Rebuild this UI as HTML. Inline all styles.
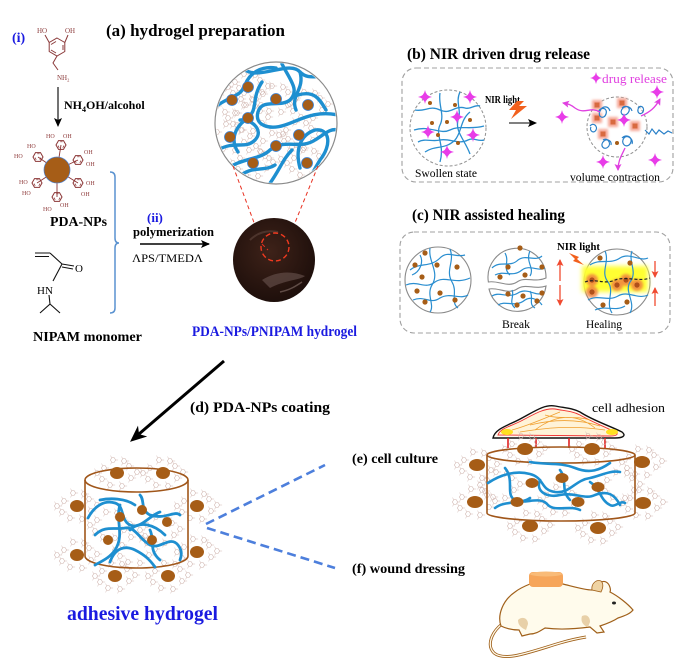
<!DOCTYPE html>
<html><head><meta charset="utf-8"><style>
html,body{margin:0;padding:0;background:#fff;}
svg{display:block;}
text{font-family:"Liberation Serif",serif;}
</style></head><body>
<svg width="699" height="667" viewBox="0 0 699 667" xmlns="http://www.w3.org/2000/svg">
<defs>
<g id="hx"><polygon points="2.6,0 1.3,2.25 -1.3,2.25 -2.6,0 -1.3,-2.25 1.3,-2.25" fill="none" stroke="#cdb0aa" stroke-width="0.55"/><path d="M2.6,0h2.5M-1.3,-2.25l-1.2,-2.2M-1.3,2.25l-1.2,2.2" stroke="#cdb0aa" stroke-width="0.45" fill="none"/></g>
<g id="cl"><use href="#hx" x="-13" y="-5"/><use href="#hx" x="-15" y="6"/><use href="#hx" x="12" y="-7"/><use href="#hx" x="14" y="5"/><use href="#hx" x="-4" y="-13"/><use href="#hx" x="5" y="13"/><use href="#hx" x="-7" y="12"/><use href="#hx" x="7" y="-12"/><use href="#hx" x="-20" y="0"/><use href="#hx" x="20" y="-1"/></g>
<g id="cat"><polygon points="5,0 2.5,4.33 -2.5,4.33 -5,0 -2.5,-4.33 2.5,-4.33" fill="none" stroke="#8b3535" stroke-width="1"/><path d="M3,0.6 L1.8,2.8 M-1.8,2.8 L-3,0.6 M-0.8,-3.2 L1.6,-3.2" stroke="#8b3535" stroke-width="0.7"/></g>
<path id="st" d="M0,-7 Q0.9,-0.9 7,0 Q0.9,0.9 0,7 Q-0.9,0.9 -7,0 Q-0.9,-0.9 0,-7Z" fill="#e83ce8"/>
<marker id="ab" markerWidth="9" markerHeight="8" refX="8" refY="4" orient="auto" markerUnits="userSpaceOnUse"><path d="M0,0 L9,4 L0,8 L2,4Z" fill="#000"/></marker>
<marker id="ar" markerWidth="7" markerHeight="7" refX="6" refY="3.5" orient="auto" markerUnits="userSpaceOnUse"><path d="M0,0 L7,3.5 L0,7 L1.5,3.5Z" fill="#f04a30"/></marker>
<marker id="am" markerWidth="7" markerHeight="7" refX="6" refY="3.5" orient="auto" markerUnits="userSpaceOnUse"><path d="M0,0 L7,3.5 L0,7 L1.5,3.5Z" fill="#e040e0"/></marker>
<clipPath id="c1"><circle cx="276" cy="123" r="60"/></clipPath>
<radialGradient id="gd" cx="45%" cy="40%" r="60%"><stop offset="0" stop-color="#3e2219"/><stop offset="1" stop-color="#1e0f0b"/></radialGradient>
<filter id="bl" x="-50%" y="-50%" width="200%" height="200%"><feGaussianBlur stdDeviation="2.5"/></filter>
<filter id="bl1" x="-50%" y="-50%" width="200%" height="200%"><feGaussianBlur stdDeviation="1.2"/></filter>
</defs>

<!-- ===== (a) hydrogel preparation ===== -->
<text x="12" y="42" font-size="14" font-weight="bold" fill="#1a1ae0">(i)</text>
<text x="106" y="36" font-size="17" font-weight="bold" textLength="179" lengthAdjust="spacingAndGlyphs">(a) hydrogel preparation</text>

<!-- dopamine -->
<g stroke="#8b3a3a" stroke-width="1" fill="none">
<polygon points="57,38 64.8,42.5 64.8,51.5 57,56 49.2,51.5 49.2,42.5"/>
<path d="M51,44.5 L56,41.5 M63,45 L63,50 M51,50 L56,53"/>
<path d="M49.2,42.5 L45,35 M64.8,42.5 L68,35 M57,56 L53,63 L58,70"/>
</g>
<text x="37" y="33" font-size="7" fill="#8b3a3a" font-family="Liberation Sans,sans-serif">HO</text>
<text x="65" y="33" font-size="7" fill="#8b3a3a" font-family="Liberation Sans,sans-serif">OH</text>
<text x="57" y="80" font-size="7" fill="#8b3a3a" font-family="Liberation Sans,sans-serif">NH<tspan font-size="4.5" dy="1.5">2</tspan></text>
<line x1="58" y1="87" x2="58" y2="126" stroke="#000" stroke-width="1.1" marker-end="url(#ab)"/>
<text x="64" y="109" font-size="12" font-weight="bold">NH<tspan font-size="8" dy="3">4</tspan><tspan dy="-3">OH/alcohol</tspan></text>

<!-- PDA NP -->
<g stroke="#8b3535" stroke-width="0.9">
<line x1="57" y1="170" x2="61" y2="145"/><line x1="57" y1="170" x2="78" y2="160"/><line x1="57" y1="170" x2="78" y2="183"/><line x1="57" y1="170" x2="57" y2="197"/><line x1="57" y1="170" x2="37" y2="183"/><line x1="57" y1="170" x2="38" y2="157"/>
</g>
<use href="#cat" x="61" y="145"/><use href="#cat" x="78" y="160"/><use href="#cat" x="78" y="183"/><use href="#cat" x="57" y="197"/><use href="#cat" x="37" y="183"/><use href="#cat" x="38" y="157"/>
<circle cx="57" cy="170" r="13" fill="#a65d17" stroke="#4a7fd0" stroke-width="0.7"/>
<g font-size="6" fill="#8b3535" font-family="Liberation Sans,sans-serif">
<text x="46" y="138">HO</text><text x="63" y="138">OH</text><text x="84" y="154">OH</text><text x="86" y="166">OH</text><text x="86" y="185">OH</text><text x="81" y="196">OH</text><text x="43" y="211">HO</text><text x="60" y="207">OH</text><text x="19" y="184">HO</text><text x="22" y="195">HO</text><text x="27" y="148">HO</text><text x="14" y="158">HO</text>
</g>
<text x="50" y="226" font-size="14" font-weight="bold" textLength="57" lengthAdjust="spacingAndGlyphs">PDA-NPs</text>

<!-- NIPAM -->
<g stroke="#111" stroke-width="1.1" fill="none">
<path d="M35,253 L50,253 M35,256.5 L49,256.5 M50,253 L62,264 M62,264 L74,266 M62,267 L73,269 M62,264 L53,281 M49,295 L50,304 L40,313 M50,304 L60,313"/>
</g>
<text x="75" y="272" font-size="11" font-family="Liberation Sans,sans-serif">O</text>
<text x="37" y="294" font-size="11" font-family="Liberation Sans,sans-serif">HN</text>
<text x="33" y="341" font-size="13.5" font-weight="bold" textLength="109" lengthAdjust="spacingAndGlyphs">NIPAM monomer</text>

<!-- bracket -->
<path d="M110,172 Q115,172 115,177 L115,238 Q115,243 119,243 Q115,243 115,248 L115,308 Q115,313 110,313" fill="none" stroke="#5a92d0" stroke-width="1.5"/>

<text x="147" y="222" font-size="13" font-weight="bold" fill="#1a1ae0">(ii)</text>
<text x="133" y="236" font-size="12.5" font-weight="bold" textLength="81" lengthAdjust="spacingAndGlyphs">polymerization</text>
<line x1="140" y1="244" x2="209" y2="244" stroke="#000" stroke-width="1.5" marker-end="url(#ab)"/>
<text x="132" y="262" font-size="12" textLength="71" lengthAdjust="spacingAndGlyphs">ΛPS/TMEDΛ</text>

<!-- zoomed hydrogel circle -->
<circle cx="276" cy="123" r="61" fill="#fff" stroke="#8a8a8a" stroke-width="1.2"/>
<g clip-path="url(#c1)">
<use href="#cl" x="248" y="87"/><use href="#cl" x="232" y="100"/><use href="#cl" x="276" y="99"/><use href="#cl" x="308" y="105"/><use href="#cl" x="248" y="118"/><use href="#cl" x="230" y="137"/><use href="#cl" x="299" y="135"/><use href="#cl" x="276" y="146"/><use href="#cl" x="253" y="163"/><use href="#cl" x="307" y="163"/>
<g fill="none" stroke="#1e8fd0" stroke-width="3.4" stroke-linecap="round">
<path d="M214,108 C230,95 240,98 245,85 C250,72 262,66 276,68"/>
<path d="M245,70 C260,80 290,60 300,72 C310,82 320,72 334,80"/>
<path d="M282,64 C290,80 300,90 290,100 C280,108 262,98 258,112 C254,126 270,130 285,125 C300,120 315,110 338,115"/>
<path d="M218,150 C235,140 245,150 255,140 C265,130 250,118 240,120"/>
<path d="M226,170 C240,158 260,160 270,150 C285,138 300,150 315,140 C325,134 330,128 338,130"/>
<path d="M300,168 C295,150 300,135 315,130 C330,128 332,145 320,160 C315,168 310,178 305,186"/>
<path d="M262,82 C250,100 260,110 245,120 C235,128 230,140 238,152"/>
<path d="M268,186 C280,170 282,160 292,150"/>
<path d="M298,95 C315,90 320,100 326,110"/>
<path d="M238,178 C250,165 265,172 275,165"/>
<path d="M300,72 C305,90 290,95 296,110"/>
</g>
<g fill="#a65d17" stroke="#3a7fd0" stroke-width="0.8">
<circle cx="248" cy="87" r="5.5"/><circle cx="232" cy="100" r="5.5"/><circle cx="276" cy="99" r="5.5"/><circle cx="308" cy="105" r="5.5"/><circle cx="248" cy="118" r="5.5"/><circle cx="230" cy="137" r="5.5"/><circle cx="299" cy="135" r="5.5"/><circle cx="276" cy="146" r="5.5"/><circle cx="253" cy="163" r="5.5"/><circle cx="307" cy="163" r="5.5"/>
</g>
</g>
<!-- red dashed zoom lines -->
<line x1="233" y1="166" x2="262" y2="244" stroke="#e83020" stroke-width="1" stroke-dasharray="4,3"/>
<line x1="318" y1="166" x2="290" y2="235" stroke="#e83020" stroke-width="1" stroke-dasharray="4,3"/>
<!-- hydrogel disc -->
<ellipse cx="274" cy="260" rx="41" ry="42" fill="url(#gd)"/>
<path d="M262,280 C275,272 290,270 305,276 C300,280 285,280 270,288 Z" fill="#6b5550" opacity="0.6"/>
<path d="M250,240 C258,232 268,230 278,232" stroke="#5a4038" stroke-width="2" fill="none" opacity="0.7"/>
<path d="M280,292 C290,290 296,286 302,282" stroke="#7a6560" stroke-width="1.5" fill="none" opacity="0.7"/>
<line x1="262" y1="244" x2="268" y2="250" stroke="#e83020" stroke-width="1" stroke-dasharray="4,3"/>
<circle cx="275" cy="247" r="14" fill="none" stroke="#f03a20" stroke-width="1.4" stroke-dasharray="5,3"/>
<text x="192" y="336" font-size="15" font-weight="bold" fill="#1a1ae0" textLength="165" lengthAdjust="spacingAndGlyphs">PDA-NPs/PNIPAM hydrogel</text>

<!-- ===== (b) ===== -->
<text x="407" y="59" font-size="16" font-weight="bold" textLength="183" lengthAdjust="spacingAndGlyphs">(b) NIR driven drug release</text>
<rect x="402" y="68" width="271" height="114" rx="14" fill="none" stroke="#a0a0a0" stroke-width="1.1" stroke-dasharray="5,3"/>
<circle cx="448" cy="128" r="38" fill="none" stroke="#909090" stroke-width="1" stroke-dasharray="3,2"/>
<g fill="none" stroke="#2a8ed0" stroke-width="1.3">
<path d="M415,110 C425,112 430,105 440,110 C450,115 455,105 465,108 C470,110 475,104 480,106"/>
<path d="M414,130 C430,125 440,135 450,130 C460,125 470,130 484,126"/>
<path d="M425,152 C435,145 445,150 455,140 C462,132 460,120 470,112"/>
<path d="M440,93 C438,105 445,115 440,125 C435,135 445,145 440,162"/>
<path d="M460,92 C455,102 462,110 458,120 C455,132 465,140 470,154"/>
<path d="M418,142 C425,138 432,142 440,140 C450,138 458,145 468,140 C474,137 478,142 484,140"/>
</g>
<g fill="#a65d17"><circle cx="430" cy="103" r="2"/><circle cx="455" cy="105" r="2"/><circle cx="432" cy="123" r="2"/><circle cx="447" cy="122" r="2"/><circle cx="470" cy="120" r="2"/><circle cx="438" cy="135" r="2"/><circle cx="458" cy="143" r="2"/></g>
<use href="#st" x="425" y="97"/><use href="#st" x="470" y="97"/><use href="#st" x="457" y="117"/><use href="#st" x="428" y="132"/><use href="#st" x="473" y="135"/><use href="#st" x="447" y="152"/>
<text x="415" y="177" font-size="11.5" textLength="62" lengthAdjust="spacingAndGlyphs">Swollen state</text>
<text x="485" y="103" font-size="10" font-weight="bold" textLength="35" lengthAdjust="spacingAndGlyphs">NIR light</text>
<polygon points="517,101 509,110 516,110 511,119 527,106 519,106 524,101" fill="#f2601d"/>
<line x1="509" y1="123" x2="536" y2="123" stroke="#000" stroke-width="1.1" marker-end="url(#ab)"/>
<!-- right contracted -->
<circle cx="617" cy="127" r="30" fill="none" stroke="#909090" stroke-width="1" stroke-dasharray="3,2"/>
<g fill="#f6a898" filter="url(#bl1)"><rect x="592" y="100" width="10" height="10"/><rect x="617" y="98" width="10" height="10"/><rect x="592" y="113" width="10" height="10"/><rect x="608" y="117" width="10" height="10"/><rect x="630" y="121" width="10" height="10"/><rect x="598" y="129" width="10" height="10"/></g>
<g fill="#d86a40"><rect x="594.5" y="102.5" width="5" height="5"/><rect x="619.5" y="100.5" width="5" height="5"/><rect x="594.5" y="115.5" width="5" height="5"/><rect x="610.5" y="119.5" width="5" height="5"/><rect x="632.5" y="123.5" width="5" height="5"/><rect x="600.5" y="131.5" width="5" height="5"/></g>
<g fill="none" stroke="#2a80c8" stroke-width="1.2">
<path d="M598,112 c3,-6 10,-4 8,2 c-2,6 -9,3 -6,-3 c2,-5 8,-6 10,0"/>
<path d="M622,108 c4,-4 10,0 6,5 c-4,5 -10,0 -5,-5 c3,-3 8,-1 9,3"/>
<path d="M622,138 c5,-5 12,0 8,6 c-4,5 -10,-1 -6,-6 c4,-4 10,2 8,6"/>
<path d="M603,140 c4,-3 9,3 5,7 c-4,4 -9,-2 -4,-6 c3,-3 8,0 7,4"/>
<path d="M590,126 c3,-4 8,0 6,4 c-2,4 -7,1 -5,-3"/>
<path d="M638,108 c3,-4 7,0 5,4 c-3,4 -7,0 -4,-5"/>
<path d="M645,130 l4,4 l3,-5 l4,5 l3,-4 l5,4 l4,-3 l4,2"/>
</g>
<circle cx="617" cy="143" r="2" fill="#a65d17"/>
<g fill="none" stroke="#e040e0" stroke-width="1.3">
<path d="M600,112 C590,106 585,115 575,108 C570,104 568,104 563,103" marker-end="url(#am)"/>
<path d="M641,116 C650,112 655,108 660,99" marker-end="url(#am)"/>
<path d="M625,148 C622,155 618,160 618,170" marker-end="url(#am)"/>
</g>
<use href="#st" transform="translate(596,78) scale(0.85)"/><use href="#st" x="657" y="92"/><use href="#st" x="562" y="117"/><use href="#st" x="624" y="120" /><use href="#st" x="603" y="162"/><use href="#st" x="655" y="160"/>
<text x="602" y="83" font-size="13" fill="#e040e0" textLength="65" lengthAdjust="spacingAndGlyphs" font-family="Liberation Sans,sans-serif">drug release</text>
<text x="570" y="181" font-size="12" textLength="90" lengthAdjust="spacingAndGlyphs">volume contraction</text>

<!-- ===== (c) ===== -->
<text x="412" y="220" font-size="16" font-weight="bold" textLength="153" lengthAdjust="spacingAndGlyphs">(c) NIR assisted healing</text>
<rect x="400" y="232" width="270" height="101" rx="14" fill="none" stroke="#a0a0a0" stroke-width="1.1" stroke-dasharray="5,3"/>
<circle cx="438" cy="280" r="33" fill="none" stroke="#8a8a8a" stroke-width="1.1"/>
<g fill="none" stroke="#2a8ed0" stroke-width="1.2">
<path d="M410,270 C420,262 430,268 440,258 C448,250 455,258 465,255"/>
<path d="M406,285 C418,280 425,290 435,282 C445,275 455,285 470,278"/>
<path d="M413,300 C425,295 430,305 440,298 C450,292 460,300 468,295"/>
<path d="M430,248 C428,262 440,272 432,285 C426,295 435,305 430,312"/>
<path d="M450,249 C455,262 445,270 452,282 C458,292 450,302 458,308"/>
<path d="M412,275 C420,272 424,262 420,255"/>
</g>
<g fill="#a65d17"><circle cx="425" cy="253" r="2.6"/><circle cx="415" cy="265" r="2.6"/><circle cx="437" cy="265" r="2.6"/><circle cx="457" cy="267" r="2.6"/><circle cx="422" cy="277" r="2.6"/><circle cx="440" cy="293" r="2.6"/><circle cx="417" cy="291" r="2.6"/><circle cx="425" cy="302" r="2.6"/><circle cx="455" cy="300" r="2.6"/></g>
<!-- break circle -->
<path d="M488.4,282 A29,29 0 1 1 546,278 C535,283 525,276 517,282 C508,288 498,280 488.4,282 Z" fill="#fff" stroke="#8a8a8a" stroke-width="1.1"/>
<path d="M489,289 C498,287 508,295 517,289 C525,283 535,290 546,286 A29,29 0 0 1 489,289 Z" fill="#fff" stroke="#8a8a8a" stroke-width="1.1"/>
<g fill="none" stroke="#2a8ed0" stroke-width="1.2">
<path d="M492,268 C500,260 510,268 518,260 C526,254 535,262 542,256"/>
<path d="M495,275 C505,270 512,278 522,270 C530,264 538,272 545,268"/>
<path d="M505,253 C510,262 502,268 510,275"/>
<path d="M530,251 C525,262 535,268 530,276"/>
<path d="M492,296 C500,291 508,299 518,293 C528,287 535,297 544,293"/>
<path d="M498,305 C506,300 515,308 525,300 C533,295 540,302 542,305"/>
<path d="M512,290 C515,296 508,302 515,308"/>
<path d="M530,291 C534,298 528,304 535,308"/>
</g>
<g fill="#a65d17"><circle cx="520" cy="248" r="2.6"/><circle cx="508" cy="267" r="2.6"/><circle cx="542" cy="267" r="2.6"/><circle cx="525" cy="275" r="2.6"/><circle cx="500" cy="277" r="2.6"/><circle cx="508" cy="294" r="2.6"/><circle cx="542" cy="293" r="2.6"/><circle cx="523" cy="296" r="2.6"/><circle cx="517" cy="305" r="2.6"/><circle cx="537" cy="301" r="2.6"/></g>
<text x="502" y="328" font-size="11.5" textLength="28" lengthAdjust="spacingAndGlyphs">Break</text>
<g stroke="#f04a30" stroke-width="1.3" fill="none">
<line x1="560" y1="281" x2="560" y2="260" marker-end="url(#ar)"/>
<line x1="560" y1="285" x2="560" y2="305" marker-end="url(#ar)"/>
<line x1="655" y1="261" x2="655" y2="277" marker-end="url(#ar)"/>
<line x1="655" y1="306" x2="655" y2="288" marker-end="url(#ar)"/>
</g>
<text x="557" y="250" font-size="10" font-weight="bold" textLength="43" lengthAdjust="spacingAndGlyphs">NIR light</text>
<polygon points="569,253 579,257 577,259 584,265 573,261 575,259" fill="#f2601d"/>
<!-- healing circle -->
<circle cx="617" cy="282" r="33" fill="#fff" stroke="#8a8a8a" stroke-width="1.1"/>
<rect x="582" y="266" width="66" height="26" fill="#ffff30" filter="url(#bl)"/>
<g fill="#f08040" opacity="0.85" filter="url(#bl1)"><circle cx="592" cy="280" r="6"/><circle cx="617" cy="285" r="6"/><circle cx="626" cy="280" r="6"/><circle cx="637" cy="285" r="6"/><circle cx="592" cy="292" r="6"/></g>
<g fill="none" stroke="#2a8ed0" stroke-width="1.2">
<path d="M590,265 C600,258 610,265 620,258 C630,252 640,262 648,258"/>
<path d="M588,300 C598,294 608,302 618,296 C628,290 638,300 648,295"/>
<path d="M605,251 C610,262 600,272 608,282 C615,292 605,302 612,313"/>
<path d="M632,251 C628,262 638,272 630,282 C624,292 636,302 630,313"/>
<path d="M595,310 C605,305 615,312 625,306"/>
</g>
<g fill="#b0501a"><circle cx="592" cy="280" r="2.6"/><circle cx="617" cy="285" r="2.6"/><circle cx="626" cy="280" r="2.6"/><circle cx="637" cy="285" r="2.6"/><circle cx="592" cy="292" r="2.6"/></g>
<g fill="#a65d17"><circle cx="600" cy="258" r="2.6"/><circle cx="630" cy="263" r="2.6"/><circle cx="603" cy="305" r="2.6"/><circle cx="627" cy="302" r="2.6"/></g>
<path d="M585,282 C595,278 605,285 615,280 C625,276 640,282 650,278" fill="none" stroke="#222" stroke-width="1.2" stroke-dasharray="3,2"/>
<text x="586" y="328" font-size="11.5" textLength="36" lengthAdjust="spacingAndGlyphs">Healing</text>

<!-- ===== (d) ===== -->
<line x1="224" y1="361" x2="139" y2="434" stroke="#000" stroke-width="3"/>
<polygon points="131,441 145.5,436.5 138.6,434.5 137.7,427.3" fill="#000" stroke="#000" stroke-width="1"/>
<text x="190" y="412" font-size="14.5" font-weight="bold" textLength="140" lengthAdjust="spacingAndGlyphs">(d) PDA-NPs coating</text>

<!-- cylinder 1 -->
<use href="#cl" x="117" y="473"/><use href="#cl" x="163" y="473"/><use href="#cl" x="77" y="506"/><use href="#cl" x="197" y="506"/><use href="#cl" x="77" y="555"/><use href="#cl" x="197" y="552"/><use href="#cl" x="115" y="576"/><use href="#cl" x="168" y="576"/>
<use href="#cl" x="110" y="525"/><use href="#cl" x="160" y="530"/><use href="#cl" x="135" y="550"/>
<g fill="none" stroke="#a0561a" stroke-width="1.6">
<ellipse cx="136.5" cy="480" rx="51.5" ry="12"/>
<line x1="85" y1="480" x2="85" y2="556"/><line x1="188" y1="480" x2="188" y2="556"/>
<path d="M85,556 A51.5,12 0 0 0 188,556"/>
</g>
<g fill="none" stroke="#1e8fd0" stroke-width="2.8" stroke-linecap="round">
<path d="M88,518 C95,505 105,500 115,503 C125,506 120,520 130,525 C140,530 150,515 160,512"/>
<path d="M100,500 C110,498 125,498 135,505"/>
<path d="M140,495 C145,500 140,510 150,515 C165,520 175,510 180,515"/>
<path d="M95,535 C105,525 115,530 125,528 C135,526 140,540 150,545 C160,550 170,535 178,545 C182,550 182,555 180,560"/>
<path d="M110,562 C115,548 125,545 135,550 C145,555 150,560 155,567"/>
<path d="M120,505 C115,520 125,535 115,550 C110,558 100,562 95,565"/>
<path d="M150,530 C155,540 148,550 160,560"/>
<path d="M130,530 C140,520 155,525 165,535"/>
</g>
<g fill="#a65d17"><ellipse cx="117" cy="473" rx="7" ry="6"/><ellipse cx="163" cy="473" rx="7" ry="6"/><ellipse cx="77" cy="506" rx="7" ry="6"/><ellipse cx="197" cy="506" rx="7" ry="6"/><ellipse cx="77" cy="555" rx="7" ry="6"/><ellipse cx="197" cy="552" rx="7" ry="6"/><ellipse cx="115" cy="576" rx="7" ry="6"/><ellipse cx="168" cy="576" rx="7" ry="6"/>
<circle cx="142" cy="510" r="5"/><circle cx="120" cy="517" r="5"/><circle cx="167" cy="522" r="5"/><circle cx="108" cy="540" r="5"/><circle cx="152" cy="540" r="5"/></g>
<text x="67" y="620" font-size="20" font-weight="bold" fill="#1a1ae0" textLength="151" lengthAdjust="spacingAndGlyphs">adhesive hydrogel</text>

<!-- blue dashed connectors -->
<line x1="206" y1="524" x2="325" y2="465" stroke="#4d7fdc" stroke-width="2.6" stroke-dasharray="9,5"/>
<line x1="207" y1="528" x2="335" y2="568" stroke="#4d7fdc" stroke-width="2.6" stroke-dasharray="9,5"/>

<!-- ===== (e) ===== -->
<text x="352" y="463" font-size="13.5" font-weight="bold" textLength="86" lengthAdjust="spacingAndGlyphs">(e) cell culture</text>
<text x="592" y="412" font-size="13" textLength="73" lengthAdjust="spacingAndGlyphs">cell adhesion</text>
<!-- cell -->
<path d="M493,438 C495,428 510,425 522,418 C535,411 545,404 555,406 C565,408 572,408 580,412 C592,420 610,426 622,432 C627,436 622,438 615,438 Z" fill="#fffaf0" stroke="#111" stroke-width="1.4"/>
<path d="M498,435 C500,428 512,426 523,420 C536,413 545,408 555,409 C565,411 572,411 580,415 C592,422 608,428 617,433 C618,435 615,436 610,436 Z" fill="#fff3d8" stroke="#f03030" stroke-width="0.9"/>
<ellipse cx="507" cy="432" rx="6" ry="3" fill="#ffe020"/><ellipse cx="612" cy="432" rx="6" ry="3" fill="#ffe020"/>
<g fill="none" stroke="#f0a030" stroke-width="0.8">
<path d="M512,430 C530,425 545,418 560,412 M520,432 C545,428 570,425 605,430 M530,425 C550,420 575,418 600,426 M545,415 C560,420 575,415 590,420 M535,430 C555,415 575,412 595,428"/>
</g>
<g stroke="#e02020" stroke-width="1.6"><line x1="508" y1="438" x2="508" y2="448"/><line x1="536" y1="438" x2="536" y2="448"/><line x1="569" y1="438" x2="569" y2="448"/><line x1="605" y1="438" x2="605" y2="448"/></g>
<!-- cylinder 2 -->
<use href="#cl" x="525" y="449"/><use href="#cl" x="592" y="449"/><use href="#cl" x="477" y="465"/><use href="#cl" x="642" y="462"/><use href="#cl" x="475" y="502"/><use href="#cl" x="643" y="503"/><use href="#cl" x="530" y="526"/><use href="#cl" x="598" y="528"/>
<use href="#cl" x="500" y="485"/><use href="#cl" x="620" y="485"/><use href="#cl" x="560" y="500"/>
<g fill="none" stroke="#a0561a" stroke-width="1.6">
<ellipse cx="561" cy="455" rx="74" ry="8"/>
<line x1="487" y1="455" x2="487" y2="513"/><line x1="635" y1="455" x2="635" y2="513"/>
<path d="M487,513 A74,8 0 0 0 635,513"/>
</g>
<g fill="none" stroke="#1e8fd0" stroke-width="2.6" stroke-linecap="round">
<path d="M488,483 C500,475 515,470 530,474 C545,478 540,490 555,492 C570,494 575,480 590,478 C600,476 610,470 620,472"/>
<path d="M505,468 C515,480 505,495 515,500 C525,505 540,495 548,505 C555,512 570,505 580,510"/>
<path d="M530,462 C545,465 560,462 575,468 C590,474 600,470 610,463"/>
<path d="M540,480 C535,492 548,498 560,495 C575,492 585,500 595,495 C608,490 615,495 620,505"/>
<path d="M495,508 C505,500 520,505 530,498"/>
<path d="M590,482 C600,488 600,500 610,505 C615,508 620,500 625,503"/>
<path d="M560,470 C568,480 560,490 570,500"/>
</g>
<g fill="#a65d17"><ellipse cx="525" cy="449" rx="8" ry="6"/><ellipse cx="592" cy="449" rx="8" ry="6"/><ellipse cx="477" cy="465" rx="8" ry="6"/><ellipse cx="642" cy="462" rx="8" ry="6"/><ellipse cx="475" cy="502" rx="8" ry="6"/><ellipse cx="643" cy="503" rx="8" ry="6"/><ellipse cx="530" cy="526" rx="8" ry="6"/><ellipse cx="598" cy="528" rx="8" ry="6"/>
<ellipse cx="532" cy="483" rx="6.5" ry="5"/><ellipse cx="562" cy="478" rx="6.5" ry="5"/><ellipse cx="598" cy="487" rx="6.5" ry="5"/><ellipse cx="517" cy="502" rx="6.5" ry="5"/><ellipse cx="578" cy="502" rx="6.5" ry="5"/></g>

<!-- ===== (f) ===== -->
<text x="352" y="573" font-size="13.5" font-weight="bold" textLength="113" lengthAdjust="spacingAndGlyphs">(f) wound dressing</text>
<!-- mouse -->
<path d="M502,624 C492,632 486,645 494,653 C505,662 530,652 560,643 C570,640 580,638 586,637" fill="none" stroke="#a0601a" stroke-width="3"/>
<path d="M502,624 C492,632 486,645 494,653 C505,662 530,652 560,643 C570,640 580,638 586,637" fill="none" stroke="#fffbec" stroke-width="1.3"/>
<path d="M530,584 L563,584 C575,587 585,590 592,590 C596,584 602,580 606,582 C610,584 611,590 610,592 C618,596 628,604 633,610 C630,614 624,616 618,618 C612,622 606,624 600,626 L604,632 L597,633 L590,627 C575,629 560,630 545,628 C540,631 536,634 530,634 L522,636 L519,630 C512,630 505,628 501,626 C497,615 503,600 515,592 C520,588 525,586 530,584 Z" fill="#fffbec" stroke="#a0601a" stroke-width="1.2"/>
<path d="M592,590 C591,584 596,579 601,581 C604,584 603,588 601,592 Z" fill="#efd3a3" stroke="#a0601a" stroke-width="0.8"/>
<ellipse cx="614" cy="603" rx="2" ry="1.5" fill="#222"/>
<path d="M518,620 C522,616 528,618 528,624 L526,630 C522,628 518,626 518,620 Z" fill="#e8d0a8"/>
<path d="M582,616 C586,614 590,616 590,622 L588,627 C584,626 580,622 582,616 Z" fill="#e8d0a8"/>
<rect x="529" y="572" width="34" height="15" rx="4" fill="#f6a55a"/>
<ellipse cx="546" cy="574" rx="16" ry="2.5" fill="#f9bb78"/>
</svg>
</body></html>
